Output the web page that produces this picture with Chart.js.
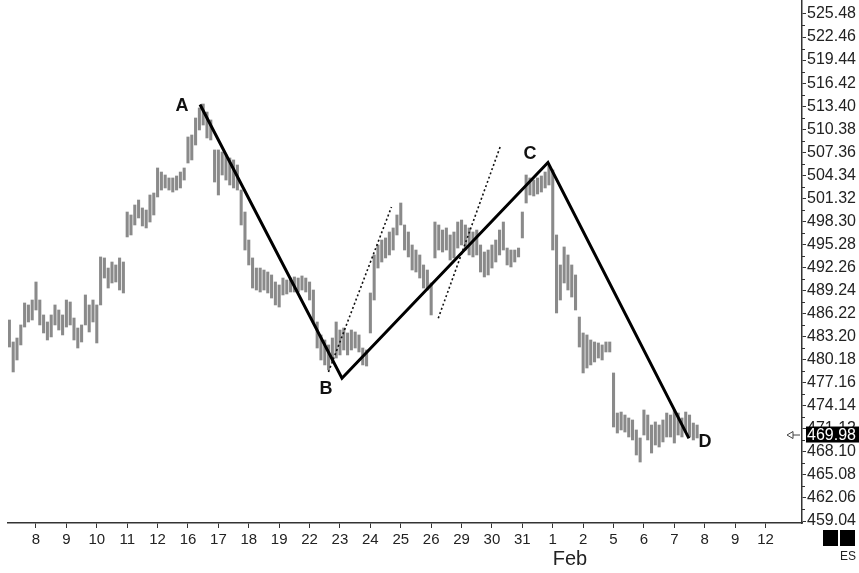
<!DOCTYPE html>
<html>
<head>
<meta charset="utf-8">
<script src="https://cdn.jsdelivr.net/npm/chart.js@4.4.1/dist/chart.umd.min.js"></script>
<style>
  html, body { margin: 0; padding: 0; background: #fff; }
  #mycanvas { display: block; }
</style>
</head>
<body>
<canvas id="mycanvas" width="859" height="573"></canvas>
<script>
// trading days shown on the time axis
var dayLabels = ['8','9','10','11','12','16','17','18','19','22','23','24','25','26','29','30','31','1','2','5','6','7','8','9','12'];
var monthLabel = 'Feb';
var monthDay = 17;           // index of "1" in dayLabels
var barsPerDay = 8;
var firstBar = -0.875;       // first bar sits in the session before "8"

// price axis labels
var priceTicks = [459.04, 462.06, 465.08, 468.10, 471.12, 474.14, 477.16, 480.18, 483.20, 486.22,
  489.24, 492.26, 495.28, 498.30, 501.32, 504.34, 507.36, 510.38, 513.40, 516.42, 519.44, 522.46, 525.48];

// bar highs / lows
var highs = [
  485.38, 482.50, 483.02, 484.73, 487.61, 487.35, 488.00,
  490.36, 488.00, 486.04, 485.12, 486.04, 487.35, 486.69, 486.04,
  488.00, 487.74, 485.64, 484.33, 484.73, 488.66, 487.35, 488.00,
  487.35, 493.64, 493.51, 492.19, 492.98, 492.59, 493.51, 492.98,
  499.53, 499.14, 500.45, 501.10, 500.06, 499.79, 501.76, 502.02,
  505.30, 504.77, 504.38, 503.99, 503.99, 504.25, 504.77, 505.30,
  509.36, 509.62, 511.85, 513.16, 513.68, 512.63, 511.59, 507.66,
  507.66, 507.39, 507.00, 506.61, 506.35, 505.69, 502.41, 499.53,
  495.86, 493.51, 492.19, 492.19, 491.93, 491.67, 491.28, 490.36,
  489.97, 490.88, 490.62, 490.88, 491.02, 490.88, 491.15, 490.88,
  490.36, 489.31, 485.12, 483.42, 482.76, 482.11, 483.02, 485.12,
  484.07, 484.33, 483.68, 484.07, 483.81, 483.42, 481.71, 481.45,
  488.92, 493.90, 495.21, 495.86, 496.13, 496.91, 497.44, 499.14,
  500.71, 497.83, 496.91, 495.21, 494.55, 493.90, 492.59, 491.93,
  490.23, 498.22, 497.83, 497.17, 497.44, 496.52, 496.91, 498.22,
  498.48, 497.83, 497.44, 496.91, 497.17, 495.21, 494.29, 494.55,
  495.21, 495.86, 497.17, 498.22, 494.81, 494.55, 494.55, 494.81,
  499.53, 504.38, 503.99, 503.72, 503.99, 504.25, 504.77, 505.56,
  505.04, 496.52, 492.59, 494.95, 493.90, 492.59, 491.28, 485.77,
  483.68, 483.42, 482.76, 482.50, 482.37, 482.11, 482.50, 482.50,
  478.44, 473.19, 473.32, 472.93, 472.54, 472.28, 470.97, 469.92,
  473.59, 472.93, 471.62, 472.02, 471.62, 472.28, 473.19, 472.93,
  473.59, 473.19, 472.54, 473.32, 472.93, 471.88, 471.62
];
var lows = [
  481.84, 478.57, 480.14, 482.11, 484.46, 485.12, 485.38,
  486.69, 484.73, 483.68, 482.76, 483.16, 484.73, 484.07, 483.42,
  484.46, 484.73, 482.76, 481.71, 482.50, 484.73, 483.81, 485.12,
  482.37, 487.35, 490.88, 489.57, 490.23, 490.36, 489.31, 488.92,
  496.26, 496.52, 497.83, 498.75, 497.70, 497.44, 498.22, 499.14,
  501.50, 502.41, 502.68, 502.41, 502.15, 502.41, 502.68, 503.72,
  505.95, 506.35, 508.31, 510.28, 510.93, 509.23, 508.97, 503.46,
  501.76, 504.38, 503.72, 503.07, 502.68, 502.41, 497.83, 494.55,
  492.59, 489.57, 489.31, 489.05, 489.31, 488.92, 488.26, 487.35,
  487.08, 488.66, 488.79, 489.05, 489.05, 489.05, 489.31, 489.05,
  488.00, 485.12, 481.71, 480.14, 479.49, 478.83, 479.88, 480.40,
  480.80, 481.45, 480.80, 481.45, 481.71, 481.19, 479.49, 479.35,
  483.68, 488.00, 492.19, 492.98, 493.51, 493.90, 494.55, 496.52,
  497.83, 494.55, 493.64, 491.93, 491.67, 490.88, 489.57, 489.31,
  486.04, 493.51, 494.55, 494.29, 494.55, 493.24, 493.51, 494.81,
  495.21, 494.55, 493.90, 493.64, 493.90, 491.67, 491.02, 491.28,
  492.19, 492.98, 493.90, 494.55, 492.59, 492.33, 492.98, 493.64,
  496.13, 500.71, 501.76, 501.63, 501.89, 502.15, 502.68, 503.07,
  494.55, 486.30, 488.00, 490.23, 489.31, 488.39, 486.69, 481.84,
  478.44, 479.09, 479.49, 479.88, 480.40, 480.14, 481.19, 481.19,
  471.36, 470.57, 470.97, 470.70, 470.05, 469.66, 467.69, 466.77,
  470.31, 469.66, 467.95, 469.00, 468.74, 469.40, 470.05, 470.05,
  469.26, 470.31, 470.05, 470.70, 470.05, 469.66, 469.92
];

// A-B-C-D swing line (x in days)
var swingNames = ['A', 'B', 'C', 'D'];
var swingX = [5.395, 10.066, 16.842, 21.48];
var swingY = [513.62, 477.74, 506.02, 469.86];

// dotted channel lines
var dash1X = [9.622, 11.694];
var dash1Y = [478.57, 500.19];
var dash2X = [13.234, 15.280];
var dash2Y = [485.61, 508.18];

var lastPrice = 469.98;
var symbol = 'ES';

var bars = [];
for (var i = 0; i < highs.length; i++) {
  bars.push({ x: firstBar + i / barsPerDay, y: [lows[i], highs[i]] });
}
function pts(xs, ys) {
  var out = [];
  for (var j = 0; j < xs.length; j++) out.push({ x: xs[j], y: ys[j] });
  return out;
}

var fontFam = '"Liberation Sans", Arial, sans-serif';

var extras = {
  id: 'extras',
  afterDraw: function(chart) {
    var c = chart.ctx;
    var xs = chart.scales.x, ys = chart.scales.y;
    var area = chart.chartArea;
    c.save();
    // minor ticks on the price axis
    c.strokeStyle = '#333';
    c.lineWidth = 1;
    for (var k = 0; k < priceTicks.length - 1; k++) {
      var ym = Math.round(ys.getPixelForValue((priceTicks[k] + priceTicks[k + 1]) / 2)) + 0.5;
      c.beginPath(); c.moveTo(area.right, ym); c.lineTo(area.right + 3, ym); c.stroke();
    }
    // point letters
    var offs = [[-18, 2], [-16, 11], [-18, -8], [16, 4]];
    c.fillStyle = '#111';
    c.font = 'bold 18px ' + fontFam;
    c.textAlign = 'center';
    c.textBaseline = 'middle';
    for (var n = 0; n < swingNames.length; n++) {
      var px = xs.getPixelForValue(swingX[n]), py = ys.getPixelForValue(swingY[n]);
      c.fillText(swingNames[n], px + offs[n][0], py + offs[n][1]);
    }
    // month label
    c.font = '20px ' + fontFam;
    c.textAlign = 'left';
    c.fillStyle = '#222';
    c.fillText(monthLabel, xs.getPixelForValue(monthDay), 559);
    // last price box
    var lp = ys.getPixelForValue(lastPrice) - 3;
    c.fillStyle = '#000';
    c.fillRect(area.right + 4, lp - 8, 60, 16);
    c.fillStyle = '#fff';
    c.font = '16px ' + fontFam;
    c.textAlign = 'left';
    c.fillText(lastPrice.toFixed(2), area.right + 5, lp + 1);
    // arrow marker
    c.strokeStyle = '#444';
    c.lineWidth = 1;
    c.beginPath();
    c.moveTo(area.right - 15, lp + 0.5);
    c.lineTo(area.right - 9, lp - 3);
    c.lineTo(area.right - 9, lp + 4);
    c.closePath();
    c.stroke();
    c.beginPath(); c.moveTo(area.right - 9, lp + 0.5); c.lineTo(area.right - 2, lp + 0.5); c.stroke();
    // symbol squares
    c.fillStyle = '#000';
    c.fillRect(823, 530, 15, 16);
    c.fillRect(840, 530, 15, 16);
    c.fillStyle = '#222';
    c.font = '12px ' + fontFam;
    c.fillText(symbol, 840, 557);
    c.restore();
  }
};

var ctx = document.getElementById('mycanvas');
var chart = new Chart(ctx, {
  type: 'bar',
  data: {
    datasets: [
      {
        type: 'line',
        data: pts(swingX, swingY),
        borderColor: '#000',
        borderWidth: 3,
        pointRadius: 0,
        fill: false,
        order: 0
      }, {
        type: 'line',
        data: pts(dash1X, dash1Y),
        borderColor: '#111',
        borderWidth: 1.6,
        borderDash: [2, 2.5],
        pointRadius: 0,
        fill: false,
        order: 1
      }, {
        type: 'line',
        data: pts(dash2X, dash2Y),
        borderColor: '#111',
        borderWidth: 1.6,
        borderDash: [2, 2.5],
        pointRadius: 0,
        fill: false,
        order: 1
      }, {
        data: bars,
        backgroundColor: '#8a8a8a',
        borderWidth: 0,
        barThickness: 2.4,
        grouped: false,
        order: 2
      }
    ]
  },
  options: {
    responsive: false,
    animation: false,
    devicePixelRatio: 1,
    layout: { padding: { left: 8, top: 0, right: 0, bottom: 0 } },
    plugins: { legend: { display: false }, tooltip: { enabled: false } },
    scales: {
      x: {
        type: 'linear',
        position: 'bottom',
        offset: false,
        min: -0.921,
        max: 25.2,
        afterBuildTicks: function(scale) {
          scale.ticks = dayLabels.map(function(d, i) { return { value: i }; });
        },
        afterFit: function(scale) {
          scale.height = 50;
          scale.paddingLeft = 0; scale.paddingRight = 0;
        },
        ticks: {
          autoSkip: false,
          maxRotation: 0,
          padding: 3,
          color: '#222',
          font: { family: fontFam, size: 15 },
          callback: function(v) { return dayLabels[v]; }
        },
        grid: { offset: false, drawOnChartArea: false, tickLength: 5, color: '#333' },
        border: { color: '#333', width: 1.5 }
      },
      y: {
        position: 'right',
        min: 458.78,
        max: 527.31,
        afterBuildTicks: function(scale) {
          scale.ticks = priceTicks.map(function(v) { return { value: v }; });
        },
        afterFit: function(scale) {
          scale.width = 57;
          scale.paddingTop = 0; scale.paddingBottom = 0;
        },
        ticks: {
          padding: 1,
          color: '#222',
          font: { family: fontFam, size: 16 },
          callback: function(v) { return v.toFixed(2); }
        },
        grid: { drawOnChartArea: false, tickLength: 4, color: '#333' },
        border: { color: '#333', width: 1.5 }
      }
    }
  },
  plugins: [extras]
});
</script>
</body>
</html>
